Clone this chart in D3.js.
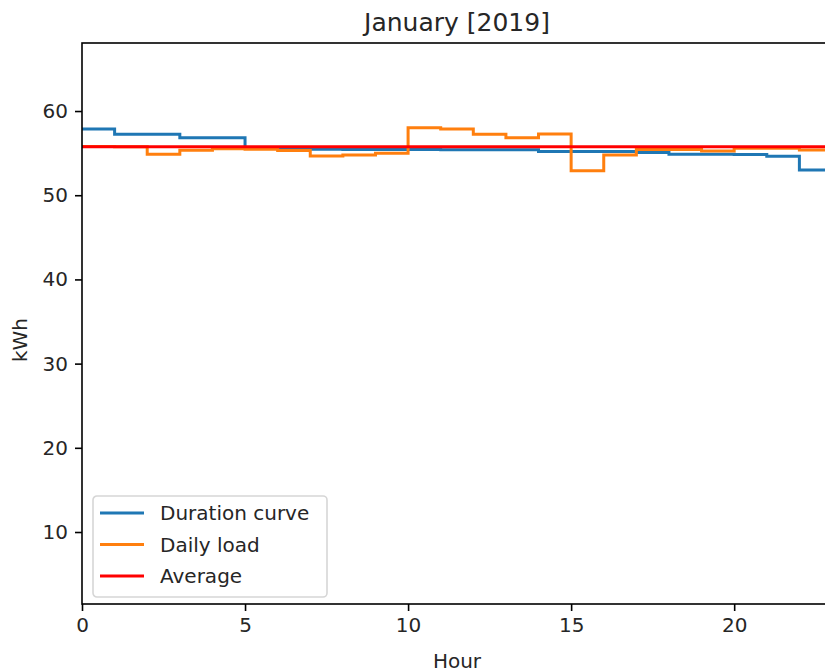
<!DOCTYPE html>
<html>
<head>
<meta charset="utf-8">
<script src="https://cdnjs.cloudflare.com/ajax/libs/d3/7.8.5/d3.min.js"></script>
<style>
  body { margin: 0; background: #fff; }
  text { font-family: "DejaVu Sans", sans-serif; fill: #262626; }
</style>
</head>
<body>
<div id="vis"><svg></svg></div>
<script>
// hours 0..23
var hours = d3.range(0, 24)
// duration curve (sorted load), kWh
var duration = [57.86, 57.23, 57.23, 56.83, 56.83, 55.68, 55.66, 55.45, 55.44, 55.43, 55.42, 55.41,
                55.40, 55.39, 55.20, 55.19, 55.18, 55.08, 54.87, 54.86, 54.85, 54.62, 53.00, 53.00]
// daily load, kWh
var daily = [55.80, 55.75, 54.86, 55.33, 55.52, 55.45, 55.30, 54.66, 54.77, 55.00, 58.02, 57.86,
             57.23, 56.83, 57.27, 52.91, 54.77, 55.42, 55.42, 55.25, 55.57, 55.57, 55.37, 55.37]
var average = 55.75
var xTicks = [0, 5, 10, 15, 20]
var yTicks = [10, 20, 30, 40, 50, 60]
var seriesNames = ['Duration curve', 'Daily load', 'Average']
var seriesColors = ['#1f77b4', '#ff7f0e', '#ff0000']

var width = 825, height = 672
var margin = { top: 43, left: 82, bottom: 68, right: -7 } // right spine falls outside the picture

var svg = d3.select('#vis').select('svg')
    .attr('width', width)
    .attr('height', height)

var w = width - margin.left - margin.right
var h = height - margin.top - margin.bottom

var x = d3.scaleLinear().domain([0, 23]).range([0, w])
var y = d3.scaleLinear().domain([1.45, 68.08]).range([h, 0])

var g = svg.append('g')
    .attr('transform', 'translate(' + margin.left + ',' + margin.top + ')')

g.append('clipPath').attr('id', 'clip')
  .append('rect').attr('width', w).attr('height', h)

var plot = g.append('g').attr('clip-path', 'url(#clip)')

var line = d3.line()
    .x(d => x(d[0]))
    .y(d => y(d[1]))
    .curve(d3.curveStepAfter)

plot.append('path')
    .datum(hours.map((hr, i) => [hr, duration[i]]))
    .attr('d', line)
    .attr('fill', 'none')
    .attr('stroke', seriesColors[0])
    .attr('stroke-width', 3)

plot.append('path')
    .datum(hours.map((hr, i) => [hr, daily[i]]))
    .attr('d', line)
    .attr('fill', 'none')
    .attr('stroke', seriesColors[1])
    .attr('stroke-width', 3)

plot.append('path')
    .datum([[0, average], [23, average]])
    .attr('d', d3.line().x(d => x(d[0])).y(d => y(d[1])))
    .attr('fill', 'none')
    .attr('stroke', seriesColors[2])
    .attr('stroke-width', 3)

// axes
var xAxis = g.append('g')
    .attr('transform', 'translate(0,' + h + ')')
    .call(d3.axisBottom(x).tickValues(xTicks).tickFormat(d3.format('d')).tickSize(7).tickPadding(7))
var yAxis = g.append('g')
    .call(d3.axisLeft(y).tickValues(yTicks).tickFormat(d3.format('d')).tickSize(7).tickPadding(7))

;[xAxis, yAxis].forEach(a => {
  a.select('.domain').remove()
  a.selectAll('line').attr('stroke', '#000').attr('stroke-width', 1.6)
  a.selectAll('text').style('font-size', '20px').attr('fill', '#262626')
})

// spines
g.append('rect')
    .attr('width', w).attr('height', h)
    .attr('fill', 'none')
    .attr('stroke', '#000')
    .attr('stroke-width', 1.6)

// title and labels
svg.append('text')
    .attr('x', margin.left + w / 2)
    .attr('y', 31)
    .attr('text-anchor', 'middle')
    .style('font-size', '25px')
    .text('January [2019]')

svg.append('text')
    .attr('x', margin.left + w / 2)
    .attr('y', 668)
    .attr('text-anchor', 'middle')
    .style('font-size', '20px')
    .text('Hour')

svg.append('text')
    .attr('transform', 'translate(27,340) rotate(-90)')
    .attr('text-anchor', 'middle')
    .style('font-size', '20px')
    .text('kWh')

// legend
var legend = svg.append('g').attr('transform', 'translate(93,496)')
legend.append('rect')
    .attr('width', 234).attr('height', 101)
    .attr('rx', 4)
    .attr('fill', '#fff')
    .attr('fill-opacity', 0.8)
    .attr('stroke', '#d6d6d6')
    .attr('stroke-width', 1.6)

seriesNames.forEach((name, i) => {
  var row = legend.append('g').attr('transform', 'translate(0,' + (17 + i * 31.5) + ')')
  row.append('line')
      .attr('x1', 7).attr('x2', 51)
      .attr('stroke', seriesColors[i])
      .attr('stroke-width', 3)
  row.append('text')
      .attr('x', 67).attr('y', 7)
      .style('font-size', '20px')
      .text(name)
})
</script>
</body>
</html>
